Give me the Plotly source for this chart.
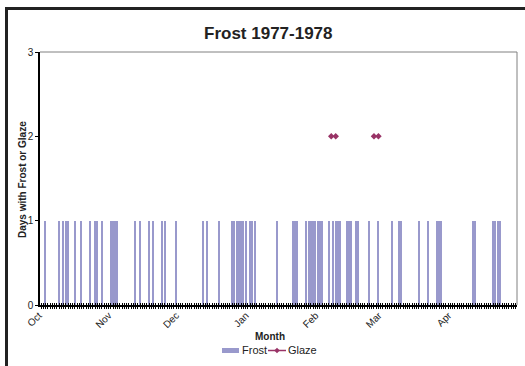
import plotly.graph_objects as go
import pandas as pd

# ---------------- data ----------------
frost_dates = [
    "1977-10-03", "1977-10-09", "1977-10-11", "1977-10-12", "1977-10-13",
    "1977-10-16", "1977-10-19", "1977-10-23", "1977-10-25", "1977-10-26",
    "1977-10-28", "1977-11-01", "1977-11-02", "1977-11-03", "1977-11-04",
    "1977-11-12", "1977-11-14", "1977-11-18", "1977-11-20", "1977-11-24",
    "1977-11-25", "1977-11-30", "1977-12-12", "1977-12-14", "1977-12-19",
    "1977-12-25", "1977-12-26", "1977-12-27", "1977-12-28", "1977-12-29",
    "1977-12-30", "1977-12-31", "1978-01-02", "1978-01-03", "1978-01-04",
    "1978-01-14", "1978-01-21", "1978-01-22", "1978-01-23", "1978-01-27",
    "1978-01-28", "1978-01-29", "1978-01-30", "1978-01-31", "1978-02-01",
    "1978-02-02", "1978-02-03", "1978-02-06", "1978-02-08", "1978-02-09",
    "1978-02-10", "1978-02-11", "1978-02-14", "1978-02-15", "1978-02-16",
    "1978-02-18", "1978-02-19", "1978-02-24", "1978-02-28", "1978-03-06",
    "1978-03-09", "1978-03-10", "1978-03-18", "1978-03-22", "1978-03-26",
    "1978-03-27", "1978-03-28", "1978-04-11", "1978-04-12", "1978-04-20",
    "1978-04-21", "1978-04-22", "1978-04-23",
]
frost_values = [1] * len(frost_dates)

glaze_dates = ["1978-02-07", "1978-02-09", "1978-02-26", "1978-02-28"]
glaze_values = [2, 2, 2, 2]

season_start = "1977-10-01"
season_end = "1978-04-30"
y_ticks = [0, 1, 2, 3]

# ---------------- build full daily series for glaze (gaps = blank) -------
days = pd.date_range(season_start, season_end, freq="D")
glaze_map = dict(zip(pd.to_datetime(glaze_dates), glaze_values))
glaze_series = [glaze_map.get(d, None) for d in days]

FONT = "Liberation Sans, Arial, sans-serif"
TXT = "#222"
FROST_C = "#9999cc"
GLAZE_C = "#993366"
W, H = 525, 366
L, R, T, B = 40, 517, 52, 305
pw, ph = R - L, B - T


def px(x):
    return (x - L) / pw


def py(y):
    return (B - y) / ph


def diamond_path(cx, cy, r):
    pts = [(cx, cy - r), (cx + r, cy), (cx, cy + r), (cx - r, cy)]
    s = "M " + " L ".join(f"{px(a):.5f},{py(b):.5f}" for a, b in pts) + " Z"
    return s


fig = go.Figure()
fig.add_trace(go.Bar(
    x=pd.to_datetime(frost_dates), y=frost_values, name="Frost",
    marker=dict(color=FROST_C, line=dict(width=0)),
    width=86400000 * 0.55, showlegend=False,
))
fig.add_trace(go.Scatter(
    x=days, y=glaze_series, name="Glaze", mode="lines+markers",
    connectgaps=False, showlegend=False,
    line=dict(color=GLAZE_C, width=1.5),
    marker=dict(symbol="diamond", size=5, color=GLAZE_C),
))
# helper on xaxis2 for inside day ticks
fig.add_trace(go.Scatter(x=[days[0]], y=[None], xaxis="x2", showlegend=False,
                         hoverinfo="skip"))

x_range = [pd.Timestamp(season_start) - pd.Timedelta(hours=11),
           pd.Timestamp(season_end) + pd.Timedelta(hours=14)]

fig.update_layout(
    width=W, height=H,
    margin=dict(l=L, r=W - R, t=T, b=H - B),
    paper_bgcolor="white", plot_bgcolor="rgba(0,0,0,0)",
    font=dict(family=FONT, size=10, color=TXT),
    bargap=0,
    showlegend=False,
    xaxis=dict(
        type="date", range=x_range, automargin=False,
        tick0=season_start, dtick="M1", tickformat="%b",
        tickangle=-45, ticks="outside", ticklen=2, tickcolor="black",
        ticklabelstandoff=-3, ticklabelshift=-2,
        tickfont=dict(size=10, color=TXT),
        showline=True, linecolor="black", linewidth=1.5,
        showgrid=False, zeroline=False,
        minor=dict(dtick=86400000, tick0=season_start, ticks="outside",
                   ticklen=2, tickcolor="black", showgrid=False),
    ),
    xaxis2=dict(
        type="date", range=x_range, overlaying="x", side="bottom",
        automargin=False,
        showticklabels=False, showgrid=False, zeroline=False, showline=False,
        tick0=season_start, dtick=86400000, ticks="inside", ticklen=2,
        tickcolor="black", anchor="y",
    ),
    yaxis=dict(
        range=[0, 3], tickvals=y_ticks, ticks="outside", ticklen=3,
        tickcolor="black", showline=True, linecolor="black", linewidth=1.5,
        showgrid=False, zeroline=False, tickfont=dict(size=10, color=TXT),
        automargin=False,
    ),
    shapes=[
        # plot area top & right border
        dict(type="line", xref="paper", yref="paper", x0=0, x1=1, y0=1, y1=1,
             line=dict(color="#808080", width=1)),
        dict(type="line", xref="paper", yref="paper", x0=1, x1=1, y0=0, y1=1,
             line=dict(color="#808080", width=1)),
        # outer chart frame (extends past right/bottom edges)
        dict(type="rect", xref="paper", yref="paper",
             x0=px(6.5), x1=px(545), y0=py(385), y1=py(8.5),
             line=dict(color=TXT, width=3), layer="above"),
        # legend: frost swatch
        dict(type="rect", xref="paper", yref="paper",
             x0=px(222), x1=px(239), y0=py(353), y1=py(348),
             fillcolor=FROST_C, line=dict(width=0)),
        # legend: glaze line
        dict(type="line", xref="paper", yref="paper",
             x0=px(268), x1=px(286), y0=py(350.5), y1=py(350.5),
             line=dict(color=GLAZE_C, width=1.5)),
        # legend: glaze marker
        dict(type="path", xref="paper", yref="paper",
             path=diamond_path(277, 350.5, 2.8),
             fillcolor=GLAZE_C, line=dict(width=0)),
    ],
    annotations=[
        dict(text="<b>Frost 1977-1978</b>", xref="paper", yref="paper",
             x=px(268), y=py(33), xanchor="center", yanchor="middle",
             showarrow=False, font=dict(size=17, color=TXT)),
        dict(text="<b>Days with Frost or Glaze</b>", xref="paper", yref="paper",
             x=px(22), y=py(180), xanchor="center", yanchor="middle",
             textangle=-90, showarrow=False,
             font=dict(size=10, color=TXT)),
        dict(text="<b>Month</b>", xref="paper", yref="paper",
             x=px(270), y=py(336), xanchor="center", yanchor="middle",
             showarrow=False, font=dict(size=10, color=TXT)),
        dict(text="Frost", xref="paper", yref="paper", x=px(240), y=py(350),
             xanchor="left", yanchor="middle", showarrow=False,
             font=dict(size=11, color=TXT)),
        dict(text="Glaze", xref="paper", yref="paper", x=px(286), y=py(350),
             xanchor="left", yanchor="middle", showarrow=False,
             font=dict(size=11, color=TXT)),
    ],
)

fig.write_html("out.html")
